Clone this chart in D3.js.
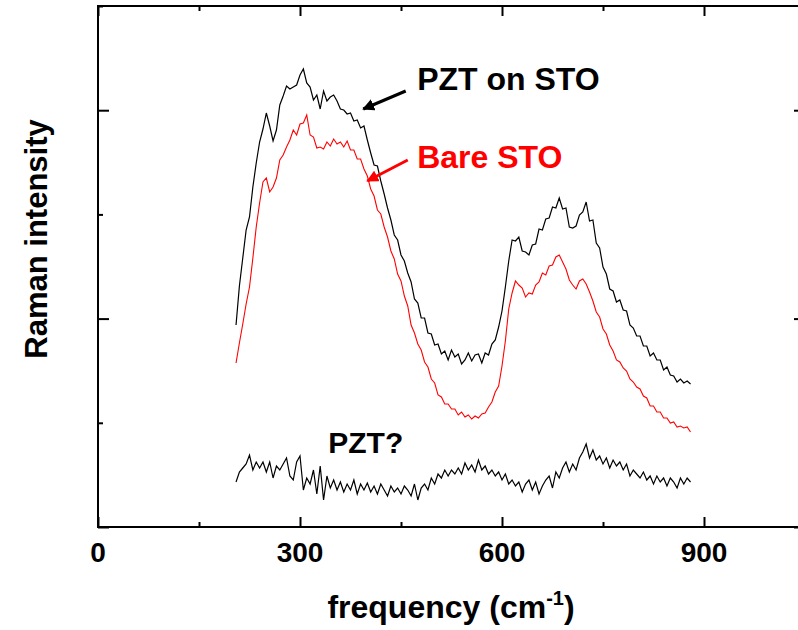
<!doctype html>
<html lang="en">
<head>
  <meta charset="utf-8">
  <title>Raman spectra: PZT on STO</title>
  <style>
    body { margin: 0; background: #fff; }
    svg { display: block; font-family: "Liberation Sans", Arial, sans-serif; font-weight: bold; }
  </style>
</head>
<body>
  <script src="https://cdn.jsdelivr.net/npm/d3@7"></script>
  <script>
    // frequency grid (cm-1), one reading every 5 cm-1 from 205 to 880
    const freq = d3.range(205, 881, 5);

    // PZT film on STO substrate (black)
    const pztOnSto = [
      202, 241, 269, 297, 310, 340, 364, 385, 398, 414,
      401, 386, 397, 422, 431, 441, 438, 440, 442, 452,
      458, 444, 440, 427, 432, 418, 436, 426, 430, 432,
      426, 418, 417, 413, 414, 406, 407, 399, 401, 387,
      374, 362, 361, 346, 333, 319, 307, 292, 287, 272,
      266, 254, 245, 228, 224, 209, 209, 194, 193, 182,
      183, 173, 176, 167, 177, 170, 173, 163, 167, 174,
      166, 172, 173, 164, 174, 172, 183, 187, 200, 216,
      240, 266, 287, 286, 290, 276, 275, 272, 282, 283,
      298, 297, 308, 309, 320, 319, 329, 318, 319, 300,
      299, 301, 312, 315, 325, 306, 307, 284, 279, 260,
      253, 238, 236, 225, 227, 217, 216, 202, 199, 191,
      191, 181, 181, 171, 174, 167, 167, 157, 160, 152,
      151, 145, 148, 144, 146, 143
    ];

    // bare STO substrate (red)
    const bareSto = [
      164, 184, 203, 223, 240, 269, 300, 324, 345, 349,
      335, 340, 349, 367, 372, 380, 387, 397, 392, 403,
      404, 412, 392, 390, 379, 380, 378, 385, 381, 388,
      383, 385, 380, 386, 377, 377, 368, 368, 358, 351,
      338, 331, 317, 313, 300, 290, 276, 268, 253, 246,
      231, 221, 202, 194, 183, 177, 165, 160, 148, 144,
      132, 130, 123, 123, 118, 118, 112, 115, 110, 112,
      108, 111, 109, 113, 114, 120, 125, 135, 141, 161,
      186, 218, 234, 246, 242, 239, 230, 234, 233, 242,
      245, 254, 252, 261, 262, 270, 272, 265, 258, 247,
      242, 238, 246, 248, 243, 235, 226, 215, 210, 198,
      193, 182, 176, 167, 165, 159, 156, 148, 145, 140,
      138, 131, 129, 121, 121, 115, 115, 109, 109, 104,
      105, 100, 101, 99, 100, 95
    ];

    // difference spectrum, "PZT?" (black, bottom)
    const pztDiff = [
      45, 55, 59, 63, 72, 57, 65, 59, 65, 55,
      65, 49, 61, 57, 63, 69, 51, 47, 65, 71,
      37, 49, 43, 57, 33, 61, 27, 51, 39, 47,
      37, 45, 35, 43, 37, 47, 33, 43, 37, 44,
      35, 41, 33, 43, 37, 31, 41, 35, 39, 33,
      41, 37, 31, 43, 27, 39, 43, 37, 49, 43,
      53, 49, 57, 51, 57, 53, 59, 53, 64, 57,
      62, 55, 67, 57, 61, 53, 57, 51, 55, 47,
      53, 43, 47, 41, 45, 35, 43, 47, 37, 45,
      33, 41, 47, 51, 39, 55, 49, 59, 65, 55,
      63, 57, 69, 75, 83, 69, 77, 67, 71, 63,
      69, 59, 67, 61, 65, 57, 63, 51, 57, 53,
      49, 55, 47, 51, 43, 51, 45, 49, 41, 49,
      45, 39, 49, 43, 49, 45
    ];

    const xMajor = [0, 300, 600, 900];
    const xMinor = [150, 450, 750];
    const yMajor = [0, 208.4, 416.8];
    const yMinor = [104.2, 312.6, 521];

    const w = 798;
    const h = 630;
    const mLeft = 98, mTop = 6, mRight = 805, mBottom = 527;

    const x = d3.scaleLinear().domain([0, 1050]).range([mLeft, mRight]);
    const y = d3.scaleLinear().domain([0, 521]).range([mBottom, mTop]);

    const svg = d3.select('body').append('svg')
      .attr('width', w)
      .attr('height', h)
      .style('overflow', 'hidden');

    // ticks on all four sides, pointing inward
    const addAxis = (axis, transform) => {
      const g = svg.append('g').attr('transform', transform).call(axis);
      g.select('.domain').remove();
      g.selectAll('line').attr('stroke', '#000').attr('stroke-width', 2);
      return g;
    };
    const xAll = xMajor.concat(xMinor);
    const yAll = yMajor.concat(yMinor);
    const xLen = (d) => xMajor.includes(d) ? -10 : -5;
    const yLen = (d) => yMajor.includes(d) ? -11 : -5;

    const bx = addAxis(d3.axisBottom(x).tickValues(xAll).tickSize(-10).tickFormat(''), `translate(0,${mBottom})`);
    bx.selectAll('line').attr('y2', xLen);
    const tx = addAxis(d3.axisTop(x).tickValues(xAll).tickSize(-10).tickFormat(''), `translate(0,${mTop})`);
    tx.selectAll('line').attr('y2', (d) => -xLen(d));
    const ly = addAxis(d3.axisLeft(y).tickValues(yAll).tickSize(-11).tickFormat(''), `translate(${mLeft},0)`);
    ly.selectAll('line').attr('x2', (d) => -yLen(d));
    const ry = addAxis(d3.axisRight(y).tickValues(yAll).tickSize(-11).tickFormat(''), `translate(${mRight},0)`);
    ry.selectAll('line').attr('x2', yLen);

    // frame
    svg.append('rect')
      .attr('x', mLeft).attr('y', mTop)
      .attr('width', mRight - mLeft).attr('height', mBottom - mTop)
      .attr('fill', 'none').attr('stroke', '#000').attr('stroke-width', 2);

    // x tick labels
    svg.append('g').selectAll('text')
      .data(xMajor)
      .join('text')
      .attr('x', (d) => x(d))
      .attr('y', mBottom + 35)
      .attr('text-anchor', 'middle')
      .attr('font-size', 28)
      .text((d) => d);

    // axis titles
    const xt = svg.append('text')
      .attr('x', 451)
      .attr('y', 618)
      .attr('text-anchor', 'middle')
      .attr('font-size', 32);
    xt.append('tspan').text('frequency (cm');
    xt.append('tspan').attr('font-size', 20).attr('dy', -13).text('-1');
    xt.append('tspan').attr('dy', 13).text(')');

    svg.append('text')
      .attr('transform', 'translate(47,239) rotate(-90)')
      .attr('text-anchor', 'middle')
      .attr('font-size', 31)
      .text('Raman intensity');

    // spectra
    const line = (vals) => d3.line()
      .x((d, i) => x(freq[i]))
      .y((d) => y(d))(vals);

    svg.append('path').attr('d', line(bareSto))
      .attr('fill', 'none').attr('stroke', '#ff0000').attr('stroke-width', 1.1);
    svg.append('path').attr('d', line(pztOnSto))
      .attr('fill', 'none').attr('stroke', '#000').attr('stroke-width', 1.2);
    svg.append('path').attr('d', line(pztDiff))
      .attr('fill', 'none').attr('stroke', '#000').attr('stroke-width', 1.2);

    // annotations
    const defs = svg.append('defs');
    [['head-black', '#000'], ['head-red', '#ff0000']].forEach(([id, c]) => {
      defs.append('marker')
        .attr('id', id)
        .attr('viewBox', '0 0 10 10')
        .attr('refX', 9).attr('refY', 5)
        .attr('markerWidth', 4).attr('markerHeight', 4)
        .attr('markerUnits', 'strokeWidth')
        .attr('orient', 'auto')
        .append('path').attr('d', 'M0,0L10,5L0,10z').attr('fill', c);
    });

    svg.append('line')
      .attr('x1', x(457)).attr('y1', y(436))
      .attr('x2', x(394)).attr('y2', y(418))
      .attr('stroke', '#000').attr('stroke-width', 3)
      .attr('marker-end', 'url(#head-black)');
    svg.append('line')
      .attr('x1', x(460)).attr('y1', y(367))
      .attr('x2', x(400)).attr('y2', y(346))
      .attr('stroke', '#ff0000').attr('stroke-width', 3)
      .attr('marker-end', 'url(#head-red)');

    svg.append('text')
      .attr('x', x(474)).attr('y', y(437))
      .attr('font-size', 32)
      .text('PZT on STO');
    svg.append('text')
      .attr('x', x(474)).attr('y', y(359))
      .attr('font-size', 32)
      .attr('fill', '#ff0000')
      .text('Bare STO');
    svg.append('text')
      .attr('x', x(342)).attr('y', y(74))
      .attr('font-size', 30)
      .text('PZT?');
  </script>
</body>
</html>
